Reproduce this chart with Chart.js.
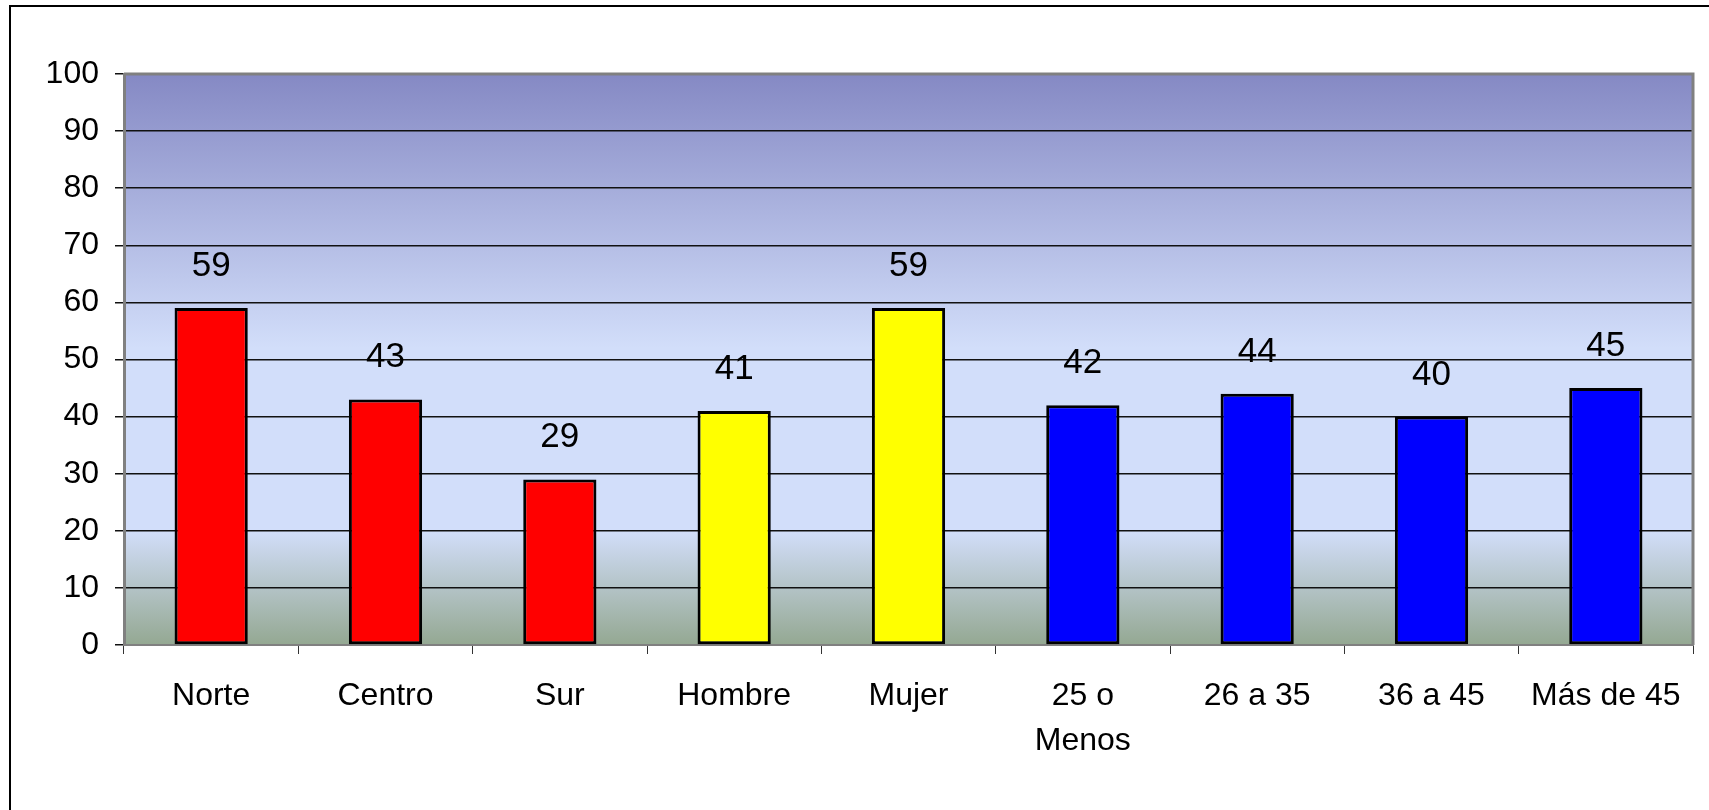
<!DOCTYPE html>
<html>
<head>
<meta charset="utf-8">
<script src="https://cdn.jsdelivr.net/npm/chart.js@4/dist/chart.umd.min.js"></script>
<style>
  html, body { margin: 0; padding: 0; background: #fff; overflow: hidden; }
  canvas { display: block; }
</style>
</head>
<body>
<canvas id="chart" width="1709" height="810"></canvas>
<script>
/* DATA */
const categories = ["Norte", "Centro", "Sur", "Hombre", "Mujer", ["25 o", "Menos"], "26 a 35", "36 a 45", "Más de 45"];
const values = [59, 43, 29, 41, 59, 42, 44, 40, 45];
const barColors = ["#ff0000", "#ff0000", "#ff0000", "#ffff00", "#ffff00", "#0000ff", "#0000ff", "#0000ff", "#0000ff"];
const yTicks = [0, 10, 20, 30, 40, 50, 60, 70, 80, 90, 100];

const FONT = "'Liberation Sans', Arial, sans-serif";

/* background gradient + plot frame + outer frame */
const backdrop = {
    id: "backdrop",
    beforeDraw(chart) {
        const { ctx, chartArea: a } = chart;
        ctx.save();
        // outer frame
        ctx.strokeStyle = "#000";
        ctx.lineWidth = 2;
        ctx.beginPath();
        ctx.moveTo(10, 820);
        ctx.lineTo(10, 6);
        ctx.lineTo(1720, 6);
        ctx.stroke();
        // plot gradient
        const g = ctx.createLinearGradient(0, a.top, 0, a.bottom);
        g.addColorStop(0, "#8589c4");
        g.addColorStop(0.48, "#d2defa");
        g.addColorStop(0.8, "#d2defa");
        g.addColorStop(1, "#94a892");
        ctx.fillStyle = g;
        ctx.fillRect(a.left, a.top, a.right - a.left, a.bottom - a.top);
        ctx.restore();
    },
    afterDraw(chart) {
        const { ctx, chartArea: a } = chart;
        ctx.save();
        ctx.strokeStyle = "#808080";
        ctx.lineWidth = 3;
        ctx.beginPath();
        ctx.moveTo(a.left, a.top);
        ctx.lineTo(a.right, a.top);
        ctx.lineTo(a.right, a.bottom);
        ctx.stroke();
        ctx.restore();
    }
};

/* value labels above the bars */
const valueLabels = {
    id: "valueLabels",
    afterDatasetsDraw(chart) {
        const { ctx } = chart;
        const meta = chart.getDatasetMeta(0);
        ctx.save();
        ctx.font = "35px " + FONT;
        ctx.fillStyle = "#000";
        ctx.textAlign = "center";
        ctx.textBaseline = "alphabetic";
        meta.data.forEach((bar, i) => {
            ctx.fillText(String(values[i]), bar.x, bar.y - 32);
        });
        ctx.restore();
    }
};

new Chart(document.getElementById("chart"), {
    type: "bar",
    data: {
        labels: categories,
        datasets: [{
            data: values,
            backgroundColor: barColors,
            borderColor: "#000",
            borderWidth: 3,
            borderSkipped: false,
            categoryPercentage: 1,
            barPercentage: 0.42
        }]
    },
    options: {
        responsive: false,
        animation: false,
        events: [],
        layout: { padding: { top: 74, right: 16, left: 0, bottom: 0 } },
        plugins: { legend: { display: false }, tooltip: { enabled: false } },
        scales: {
            x: {
                afterFit(scale) { scale.height = 165; },
                grid: {
                    offset: true,
                    drawOnChartArea: false,
                    drawTicks: true,
                    tickLength: 9,
                    color: "#333"
                },
                border: { color: "#808080", width: 2 },
                ticks: {
                    color: "#000",
                    padding: 20,
                    maxRotation: 0,
                    autoSkip: false,
                    font: { family: FONT, size: 32, lineHeight: 1.4 }
                }
            },
            y: {
                min: 0,
                max: 100,
                afterFit(scale) { scale.width = 124; },
                afterBuildTicks(scale) { scale.ticks = yTicks.map(v => ({ value: v })); },
                grid: {
                    color: "#111",
                    lineWidth: 1.5,
                    tickLength: 9,
                    drawTicks: true
                },
                border: { color: "#808080", width: 3 },
                ticks: {
                    color: "#000",
                    padding: 16,
                    font: { family: FONT, size: 32 }
                }
            }
        }
    },
    plugins: [backdrop, valueLabels]
});
</script>
</body>
</html>
